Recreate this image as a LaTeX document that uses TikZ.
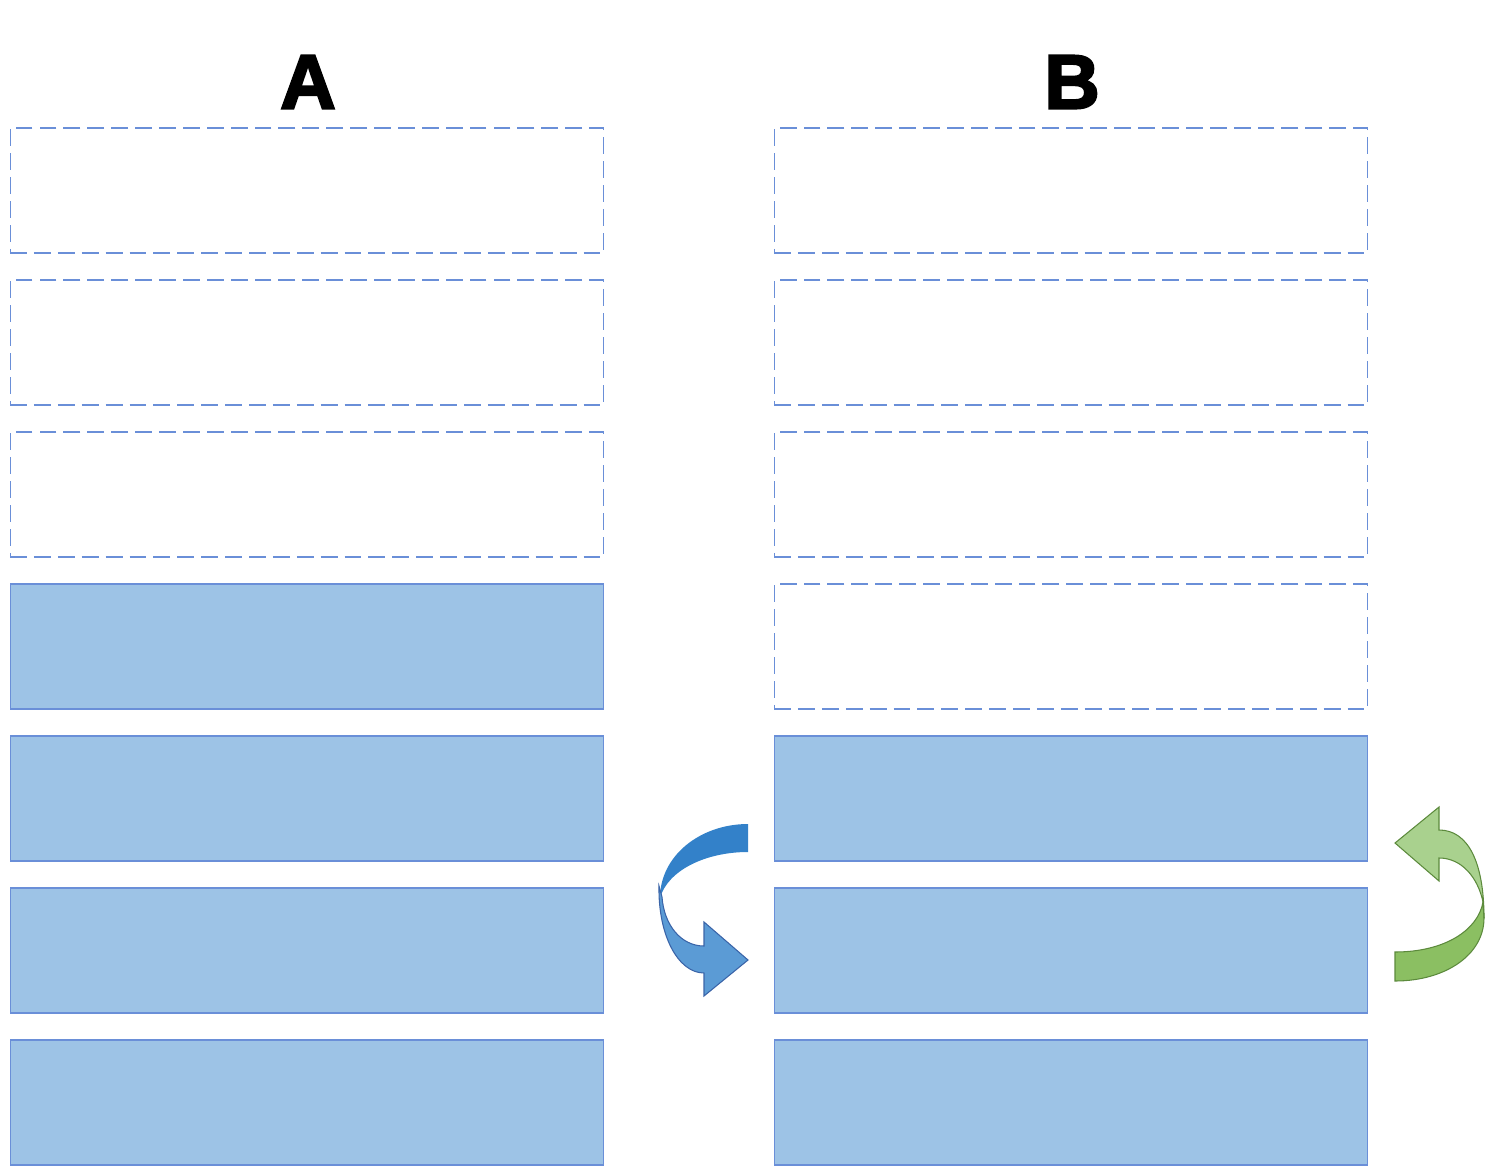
\documentclass[tikz,border=0pt]{standalone}
\usepackage{fontspec}
\setmainfont{Liberation Sans}
\newfontfamily\titelschrift{Liberation Sans Bold}[FakeBold=3]
\usepackage{xcolor}
\usepackage{tikz}
\usetikzlibrary{positioning}

\definecolor{boxfill}{HTML}{9DC3E6}
\definecolor{boxline}{HTML}{6A8FD8}
\definecolor{arrdark}{HTML}{3381C9}
\definecolor{arrlight}{HTML}{5B9BD5}
\definecolor{arrline}{HTML}{3A64A8}
\definecolor{grlight}{HTML}{A9D18E}
\definecolor{grdark}{HTML}{8BBF62}
\definecolor{grline}{HTML}{5C8A3C}

\begin{document}
\begin{tikzpicture}
    [
        x=0.02cm, y=-0.02cm,
        every node/.style={minimum width=11.88cm, minimum height=2.5cm, inner sep=0pt, outer sep=0pt},
        leer/.style={draw=boxline, line width=0.6pt, dash pattern=on 9.6pt off 4pt},
        voll/.style={draw=boxline, fill=boxfill, line width=0.6pt},
        titel/.style={minimum width=0pt, minimum height=0pt, font=\fontsize{43.7}{50}\titelschrift}
    ]

    % Rahmen
    \useasboundingbox (0,0) rectangle (1494,1176);

    \node[titel] (titelA) at (308,82) {A};
    \node[titel] (titelB) at (1072,82) {B};

    % Spalte A
    \node[leer] (a1) at (307,190.5) {};
    \node[leer] (a2) at (307,342.5) {};
    \node[leer] (a3) at (307,494.5) {};
    \node[voll] (a4) at (307,646.5) {};
    \node[voll] (a5) at (307,798.5) {};
    \node[voll] (a6) at (307,950.5) {};
    \node[voll] (a7) at (307,1102.5) {};

    % Spalte B
    \node[leer] (b1) at (1071,190.5) {};
    \node[leer] (b2) at (1071,342.5) {};
    \node[leer] (b3) at (1071,494.5) {};
    \node[leer] (b4) at (1071,646.5) {};
    \node[voll] (b5) at (1071,798.5) {};
    \node[voll] (b6) at (1071,950.5) {};
    \node[voll] (b7) at (1071,1102.5) {};

    % blauer Pfeil
    \fill[arrdark] (748,824) .. controls (700,824) and (660,856) .. (660,898)
        .. controls (668,870) and (706,852) .. (748,852) -- cycle;
    \draw[arrline, fill=arrlight, line width=0.6pt] (659,886)
        .. controls (658,935) and (678,973) .. (704,973) -- (704,996) -- (748,960)
        -- (704,922) -- (704,946) .. controls (681,946) and (664,925) .. (662,897) -- cycle;

    % gruener Pfeil
    \draw[grline, fill=grdark, line width=0.6pt] (1395,952)
        .. controls (1445,952) and (1478,930) .. (1483,902) -- (1484,918)
        .. controls (1484,955) and (1445,981) .. (1395,981) -- cycle;
    \draw[grline, fill=grlight, line width=0.6pt] (1484,918)
        .. controls (1484,862) and (1468,830) .. (1439,830) -- (1439,807) -- (1395,843)
        -- (1439,881) -- (1439,858) .. controls (1462,858) and (1478,878) .. (1483,902) -- cycle;
\end{tikzpicture}
\end{document}
